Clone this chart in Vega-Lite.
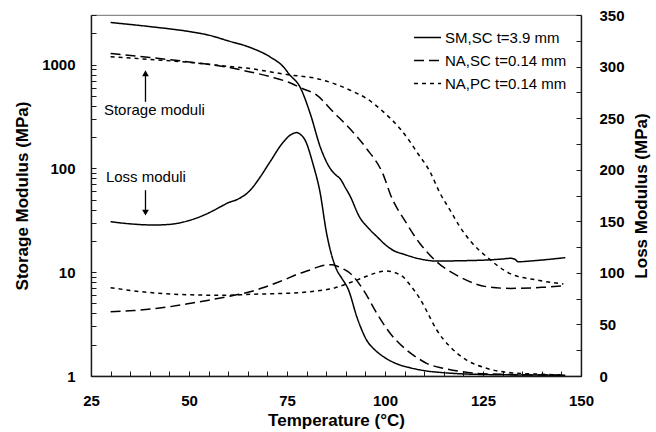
{
  "$schema": "https://vega.github.io/schema/vega-lite/v6.json",
  "width": 490,
  "height": 361,
  "autosize": {"type": "none"},
  "padding": {"left": 91, "top": 15, "right": 75, "bottom": 56},
  "background": "white",
  "datasets": {
    "curves": [
      {"series": "SM,SC t=3.9 mm", "modulus": "storage", "T": 30, "value": 2540},
      {"series": "SM,SC t=3.9 mm", "modulus": "storage", "T": 40, "value": 2320},
      {"series": "SM,SC t=3.9 mm", "modulus": "storage", "T": 50, "value": 2080},
      {"series": "SM,SC t=3.9 mm", "modulus": "storage", "T": 55, "value": 1920},
      {"series": "SM,SC t=3.9 mm", "modulus": "storage", "T": 60, "value": 1690},
      {"series": "SM,SC t=3.9 mm", "modulus": "storage", "T": 65.6, "value": 1460},
      {"series": "SM,SC t=3.9 mm", "modulus": "storage", "T": 70.7, "value": 1183},
      {"series": "SM,SC t=3.9 mm", "modulus": "storage", "T": 74.1, "value": 948},
      {"series": "SM,SC t=3.9 mm", "modulus": "storage", "T": 75.6, "value": 803},
      {"series": "SM,SC t=3.9 mm", "modulus": "storage", "T": 78.3, "value": 609},
      {"series": "SM,SC t=3.9 mm", "modulus": "storage", "T": 81, "value": 330},
      {"series": "SM,SC t=3.9 mm", "modulus": "storage", "T": 83.5, "value": 160},
      {"series": "SM,SC t=3.9 mm", "modulus": "storage", "T": 86, "value": 100},
      {"series": "SM,SC t=3.9 mm", "modulus": "storage", "T": 87.5, "value": 86},
      {"series": "SM,SC t=3.9 mm", "modulus": "storage", "T": 88.5, "value": 80},
      {"series": "SM,SC t=3.9 mm", "modulus": "storage", "T": 90, "value": 64},
      {"series": "SM,SC t=3.9 mm", "modulus": "storage", "T": 91, "value": 55},
      {"series": "SM,SC t=3.9 mm", "modulus": "storage", "T": 93.5, "value": 34},
      {"series": "SM,SC t=3.9 mm", "modulus": "storage", "T": 96, "value": 26},
      {"series": "SM,SC t=3.9 mm", "modulus": "storage", "T": 98, "value": 21.9},
      {"series": "SM,SC t=3.9 mm", "modulus": "storage", "T": 100, "value": 18.5},
      {"series": "SM,SC t=3.9 mm", "modulus": "storage", "T": 102, "value": 16.3},
      {"series": "SM,SC t=3.9 mm", "modulus": "storage", "T": 105, "value": 14.8},
      {"series": "SM,SC t=3.9 mm", "modulus": "storage", "T": 109, "value": 13.4},
      {"series": "SM,SC t=3.9 mm", "modulus": "storage", "T": 113, "value": 12.8},
      {"series": "SM,SC t=3.9 mm", "modulus": "storage", "T": 120, "value": 12.9},
      {"series": "SM,SC t=3.9 mm", "modulus": "storage", "T": 126, "value": 13.1},
      {"series": "SM,SC t=3.9 mm", "modulus": "storage", "T": 130, "value": 13.4},
      {"series": "SM,SC t=3.9 mm", "modulus": "storage", "T": 132, "value": 13.6},
      {"series": "SM,SC t=3.9 mm", "modulus": "storage", "T": 133, "value": 13.4},
      {"series": "SM,SC t=3.9 mm", "modulus": "storage", "T": 134, "value": 12.6},
      {"series": "SM,SC t=3.9 mm", "modulus": "storage", "T": 137, "value": 12.8},
      {"series": "SM,SC t=3.9 mm", "modulus": "storage", "T": 141, "value": 13.2},
      {"series": "SM,SC t=3.9 mm", "modulus": "storage", "T": 146, "value": 13.8},

      {"series": "NA,SC t=0.14 mm", "modulus": "storage", "T": 30, "value": 1280},
      {"series": "NA,SC t=0.14 mm", "modulus": "storage", "T": 40, "value": 1170},
      {"series": "NA,SC t=0.14 mm", "modulus": "storage", "T": 50, "value": 1060},
      {"series": "NA,SC t=0.14 mm", "modulus": "storage", "T": 60, "value": 940},
      {"series": "NA,SC t=0.14 mm", "modulus": "storage", "T": 65.6, "value": 849},
      {"series": "NA,SC t=0.14 mm", "modulus": "storage", "T": 71, "value": 760},
      {"series": "NA,SC t=0.14 mm", "modulus": "storage", "T": 76.2, "value": 656},
      {"series": "NA,SC t=0.14 mm", "modulus": "storage", "T": 78.3, "value": 600},
      {"series": "NA,SC t=0.14 mm", "modulus": "storage", "T": 82.6, "value": 507},
      {"series": "NA,SC t=0.14 mm", "modulus": "storage", "T": 86.8, "value": 350},
      {"series": "NA,SC t=0.14 mm", "modulus": "storage", "T": 91, "value": 242},
      {"series": "NA,SC t=0.14 mm", "modulus": "storage", "T": 95.3, "value": 155},
      {"series": "NA,SC t=0.14 mm", "modulus": "storage", "T": 99.6, "value": 86},
      {"series": "NA,SC t=0.14 mm", "modulus": "storage", "T": 101.3, "value": 57},
      {"series": "NA,SC t=0.14 mm", "modulus": "storage", "T": 105.5, "value": 29.5},
      {"series": "NA,SC t=0.14 mm", "modulus": "storage", "T": 108.9, "value": 18.9},
      {"series": "NA,SC t=0.14 mm", "modulus": "storage", "T": 113.2, "value": 12.6},
      {"series": "NA,SC t=0.14 mm", "modulus": "storage", "T": 119.1, "value": 9.0},
      {"series": "NA,SC t=0.14 mm", "modulus": "storage", "T": 126, "value": 7.24},
      {"series": "NA,SC t=0.14 mm", "modulus": "storage", "T": 132, "value": 6.98},
      {"series": "NA,SC t=0.14 mm", "modulus": "storage", "T": 140, "value": 7.14},
      {"series": "NA,SC t=0.14 mm", "modulus": "storage", "T": 146, "value": 7.4},

      {"series": "NA,PC t=0.14 mm", "modulus": "storage", "T": 30, "value": 1190},
      {"series": "NA,PC t=0.14 mm", "modulus": "storage", "T": 40, "value": 1120},
      {"series": "NA,PC t=0.14 mm", "modulus": "storage", "T": 50, "value": 1050},
      {"series": "NA,PC t=0.14 mm", "modulus": "storage", "T": 60, "value": 960},
      {"series": "NA,PC t=0.14 mm", "modulus": "storage", "T": 65.6, "value": 915},
      {"series": "NA,PC t=0.14 mm", "modulus": "storage", "T": 70, "value": 860},
      {"series": "NA,PC t=0.14 mm", "modulus": "storage", "T": 75, "value": 800},
      {"series": "NA,PC t=0.14 mm", "modulus": "storage", "T": 82.6, "value": 733},
      {"series": "NA,PC t=0.14 mm", "modulus": "storage", "T": 87, "value": 655},
      {"series": "NA,PC t=0.14 mm", "modulus": "storage", "T": 91.1, "value": 566},
      {"series": "NA,PC t=0.14 mm", "modulus": "storage", "T": 95.3, "value": 471},
      {"series": "NA,PC t=0.14 mm", "modulus": "storage", "T": 99.6, "value": 350},
      {"series": "NA,PC t=0.14 mm", "modulus": "storage", "T": 103.8, "value": 242},
      {"series": "NA,PC t=0.14 mm", "modulus": "storage", "T": 106.4, "value": 180},
      {"series": "NA,PC t=0.14 mm", "modulus": "storage", "T": 108.1, "value": 144},
      {"series": "NA,PC t=0.14 mm", "modulus": "storage", "T": 111.5, "value": 92.5},
      {"series": "NA,PC t=0.14 mm", "modulus": "storage", "T": 114, "value": 58},
      {"series": "NA,PC t=0.14 mm", "modulus": "storage", "T": 116.6, "value": 39.6},
      {"series": "NA,PC t=0.14 mm", "modulus": "storage", "T": 119.1, "value": 27.4},
      {"series": "NA,PC t=0.14 mm", "modulus": "storage", "T": 122, "value": 19.5},
      {"series": "NA,PC t=0.14 mm", "modulus": "storage", "T": 125.9, "value": 14.1},
      {"series": "NA,PC t=0.14 mm", "modulus": "storage", "T": 131.9, "value": 9.7},
      {"series": "NA,PC t=0.14 mm", "modulus": "storage", "T": 138.7, "value": 8.4},
      {"series": "NA,PC t=0.14 mm", "modulus": "storage", "T": 145.5, "value": 7.7},

      {"series": "SM,SC t=3.9 mm", "modulus": "loss", "T": 30, "value": 149.6},
      {"series": "SM,SC t=3.9 mm", "modulus": "loss", "T": 35, "value": 147.5},
      {"series": "SM,SC t=3.9 mm", "modulus": "loss", "T": 41, "value": 146.4},
      {"series": "SM,SC t=3.9 mm", "modulus": "loss", "T": 45, "value": 147},
      {"series": "SM,SC t=3.9 mm", "modulus": "loss", "T": 50.5, "value": 151.3},
      {"series": "SM,SC t=3.9 mm", "modulus": "loss", "T": 54.8, "value": 157.7},
      {"series": "SM,SC t=3.9 mm", "modulus": "loss", "T": 58, "value": 164},
      {"series": "SM,SC t=3.9 mm", "modulus": "loss", "T": 60, "value": 168},
      {"series": "SM,SC t=3.9 mm", "modulus": "loss", "T": 62.4, "value": 171.3},
      {"series": "SM,SC t=3.9 mm", "modulus": "loss", "T": 65.6, "value": 180},
      {"series": "SM,SC t=3.9 mm", "modulus": "loss", "T": 68, "value": 192},
      {"series": "SM,SC t=3.9 mm", "modulus": "loss", "T": 70.7, "value": 207.8},
      {"series": "SM,SC t=3.9 mm", "modulus": "loss", "T": 74.1, "value": 227},
      {"series": "SM,SC t=3.9 mm", "modulus": "loss", "T": 76, "value": 234},
      {"series": "SM,SC t=3.9 mm", "modulus": "loss", "T": 77.5, "value": 236},
      {"series": "SM,SC t=3.9 mm", "modulus": "loss", "T": 78.5, "value": 234},
      {"series": "SM,SC t=3.9 mm", "modulus": "loss", "T": 79.6, "value": 228.8},
      {"series": "SM,SC t=3.9 mm", "modulus": "loss", "T": 81.7, "value": 204.6},
      {"series": "SM,SC t=3.9 mm", "modulus": "loss", "T": 83.4, "value": 178.7},
      {"series": "SM,SC t=3.9 mm", "modulus": "loss", "T": 85.1, "value": 138.4},
      {"series": "SM,SC t=3.9 mm", "modulus": "loss", "T": 87.7, "value": 102.8},
      {"series": "SM,SC t=3.9 mm", "modulus": "loss", "T": 89, "value": 94.7},
      {"series": "SM,SC t=3.9 mm", "modulus": "loss", "T": 90.7, "value": 83.4},
      {"series": "SM,SC t=3.9 mm", "modulus": "loss", "T": 92.8, "value": 57.5},
      {"series": "SM,SC t=3.9 mm", "modulus": "loss", "T": 95.3, "value": 34.9},
      {"series": "SM,SC t=3.9 mm", "modulus": "loss", "T": 97.5, "value": 25},
      {"series": "SM,SC t=3.9 mm", "modulus": "loss", "T": 99.6, "value": 18.7},
      {"series": "SM,SC t=3.9 mm", "modulus": "loss", "T": 103.8, "value": 10.7},
      {"series": "SM,SC t=3.9 mm", "modulus": "loss", "T": 106.4, "value": 8},
      {"series": "SM,SC t=3.9 mm", "modulus": "loss", "T": 110, "value": 5.2},
      {"series": "SM,SC t=3.9 mm", "modulus": "loss", "T": 114.9, "value": 3.2},
      {"series": "SM,SC t=3.9 mm", "modulus": "loss", "T": 123.4, "value": 1.6},
      {"series": "SM,SC t=3.9 mm", "modulus": "loss", "T": 135, "value": 1.0},
      {"series": "SM,SC t=3.9 mm", "modulus": "loss", "T": 146, "value": 0.8},

      {"series": "NA,SC t=0.14 mm", "modulus": "loss", "T": 30, "value": 62.3},
      {"series": "NA,SC t=0.14 mm", "modulus": "loss", "T": 36, "value": 63.5},
      {"series": "NA,SC t=0.14 mm", "modulus": "loss", "T": 42, "value": 65.6},
      {"series": "NA,SC t=0.14 mm", "modulus": "loss", "T": 50.5, "value": 70.5},
      {"series": "NA,SC t=0.14 mm", "modulus": "loss", "T": 55, "value": 73.5},
      {"series": "NA,SC t=0.14 mm", "modulus": "loss", "T": 60.7, "value": 77.6},
      {"series": "NA,SC t=0.14 mm", "modulus": "loss", "T": 65.6, "value": 81.7},
      {"series": "NA,SC t=0.14 mm", "modulus": "loss", "T": 68.4, "value": 85},
      {"series": "NA,SC t=0.14 mm", "modulus": "loss", "T": 74.1, "value": 93},
      {"series": "NA,SC t=0.14 mm", "modulus": "loss", "T": 77.5, "value": 98.5},
      {"series": "NA,SC t=0.14 mm", "modulus": "loss", "T": 80.9, "value": 102.8},
      {"series": "NA,SC t=0.14 mm", "modulus": "loss", "T": 83, "value": 105.8},
      {"series": "NA,SC t=0.14 mm", "modulus": "loss", "T": 85.1, "value": 107.6},
      {"series": "NA,SC t=0.14 mm", "modulus": "loss", "T": 86.5, "value": 107.8},
      {"series": "NA,SC t=0.14 mm", "modulus": "loss", "T": 87.7, "value": 106.6},
      {"series": "NA,SC t=0.14 mm", "modulus": "loss", "T": 89.5, "value": 103.5},
      {"series": "NA,SC t=0.14 mm", "modulus": "loss", "T": 91.1, "value": 99.6},
      {"series": "NA,SC t=0.14 mm", "modulus": "loss", "T": 94.5, "value": 83.4},
      {"series": "NA,SC t=0.14 mm", "modulus": "loss", "T": 97.9, "value": 60.8},
      {"series": "NA,SC t=0.14 mm", "modulus": "loss", "T": 101.3, "value": 41.4},
      {"series": "NA,SC t=0.14 mm", "modulus": "loss", "T": 105.5, "value": 25.2},
      {"series": "NA,SC t=0.14 mm", "modulus": "loss", "T": 108.9, "value": 16},
      {"series": "NA,SC t=0.14 mm", "modulus": "loss", "T": 110.6, "value": 12.3},
      {"series": "NA,SC t=0.14 mm", "modulus": "loss", "T": 114.9, "value": 7.5},
      {"series": "NA,SC t=0.14 mm", "modulus": "loss", "T": 119, "value": 4.5},
      {"series": "NA,SC t=0.14 mm", "modulus": "loss", "T": 123.4, "value": 2.6},
      {"series": "NA,SC t=0.14 mm", "modulus": "loss", "T": 131.9, "value": 1.5},
      {"series": "NA,SC t=0.14 mm", "modulus": "loss", "T": 146, "value": 0.8},

      {"series": "NA,PC t=0.14 mm", "modulus": "loss", "T": 30, "value": 85.6},
      {"series": "NA,PC t=0.14 mm", "modulus": "loss", "T": 34, "value": 83.5},
      {"series": "NA,PC t=0.14 mm", "modulus": "loss", "T": 37.8, "value": 81.7},
      {"series": "NA,PC t=0.14 mm", "modulus": "loss", "T": 42, "value": 80.3},
      {"series": "NA,PC t=0.14 mm", "modulus": "loss", "T": 46.3, "value": 79.2},
      {"series": "NA,PC t=0.14 mm", "modulus": "loss", "T": 52, "value": 78.6},
      {"series": "NA,PC t=0.14 mm", "modulus": "loss", "T": 59, "value": 78.2},
      {"series": "NA,PC t=0.14 mm", "modulus": "loss", "T": 65.6, "value": 79.2},
      {"series": "NA,PC t=0.14 mm", "modulus": "loss", "T": 72, "value": 79.8},
      {"series": "NA,PC t=0.14 mm", "modulus": "loss", "T": 78.3, "value": 80.8},
      {"series": "NA,PC t=0.14 mm", "modulus": "loss", "T": 82.5, "value": 82.5},
      {"series": "NA,PC t=0.14 mm", "modulus": "loss", "T": 86.8, "value": 85},
      {"series": "NA,PC t=0.14 mm", "modulus": "loss", "T": 90, "value": 89},
      {"series": "NA,PC t=0.14 mm", "modulus": "loss", "T": 92.8, "value": 93},
      {"series": "NA,PC t=0.14 mm", "modulus": "loss", "T": 95.5, "value": 97},
      {"series": "NA,PC t=0.14 mm", "modulus": "loss", "T": 97.9, "value": 100.2},
      {"series": "NA,PC t=0.14 mm", "modulus": "loss", "T": 100.4, "value": 101.8},
      {"series": "NA,PC t=0.14 mm", "modulus": "loss", "T": 103, "value": 99.6},
      {"series": "NA,PC t=0.14 mm", "modulus": "loss", "T": 104.8, "value": 95.5},
      {"series": "NA,PC t=0.14 mm", "modulus": "loss", "T": 106.4, "value": 88.2},
      {"series": "NA,PC t=0.14 mm", "modulus": "loss", "T": 108.9, "value": 75},
      {"series": "NA,PC t=0.14 mm", "modulus": "loss", "T": 110.5, "value": 64},
      {"series": "NA,PC t=0.14 mm", "modulus": "loss", "T": 113.2, "value": 44.6},
      {"series": "NA,PC t=0.14 mm", "modulus": "loss", "T": 116.6, "value": 28.4},
      {"series": "NA,PC t=0.14 mm", "modulus": "loss", "T": 120.8, "value": 15.5},
      {"series": "NA,PC t=0.14 mm", "modulus": "loss", "T": 125.9, "value": 7.5},
      {"series": "NA,PC t=0.14 mm", "modulus": "loss", "T": 131.9, "value": 3.2},
      {"series": "NA,PC t=0.14 mm", "modulus": "loss", "T": 140.4, "value": 1.6},
      {"series": "NA,PC t=0.14 mm", "modulus": "loss", "T": 145.5, "value": 1.0}
    ],
    "notes": [
      {"label": "Storage moduli", "T": 28.3, "value": 363, "arrowFrom": 437, "arrowTo": 789, "head": 824, "shape": "triangle-up"},
      {"label": "Loss moduli", "T": 28.8, "value": 82.8, "arrowFrom": 61.7, "arrowTo": 37.9, "head": 37.5, "shape": "triangle-down"}
    ]
  },
  "layer": [
    {
      "layer": [
        {
          "data": {"name": "curves"},
          "transform": [{"filter": "datum.modulus === 'storage'"}],
          "mark": {"type": "line", "interpolate": "monotone", "color": "black", "strokeWidth": 1.5},
          "encoding": {
            "x": {
              "field": "T", "type": "quantitative",
              "scale": {"domain": [25, 150], "nice": false, "zero": false},
              "axis": {
                "title": "Temperature (°C)",
                "orient": "bottom",
                "values": [25, 50, 75, 100, 125, 150],
                "tickSize": -5,
                "labelPadding": 22,
                "titlePadding": 4
              }
            },
            "y": {
              "field": "value", "type": "quantitative",
              "scale": {"type": "log", "domain": [1, 3000], "nice": false},
              "axis": {
                "title": "Storage Modulus (MPa)",
                "orient": "left",
                "values": [1, 2, 3, 4, 5, 6, 7, 8, 9, 10, 20, 30, 40, 50, 60, 70, 80, 90, 100, 200, 300, 400, 500, 600, 700, 800, 900, 1000, 2000, 3000],
                "format": "d",
                "labelExpr": "indexof([1, 10, 100, 1000], datum.value) >= 0 ? datum.label : ''",
                "labelOverlap": false,
                "tickSize": -5,
                "labelPadding": 21,
                "titlePadding": 10
              }
            },
            "strokeDash": {
              "field": "series", "type": "nominal",
              "scale": {
                "domain": ["SM,SC t=3.9 mm", "NA,SC t=0.14 mm", "NA,PC t=0.14 mm"],
                "range": [[1, 0], [10, 5], [4, 4]]
              },
              "legend": {
                "title": null,
                "orient": "none",
                "legendX": 322,
                "legendY": 8,
                "symbolType": "stroke",
                "symbolSize": 729,
                "symbolStrokeWidth": 1.5,
                "symbolStrokeColor": "black",
                "labelFontSize": 15,
                "labelOffset": 3,
                "rowPadding": -6,
                "padding": 0
              }
            }
          }
        },
        {
          "data": {"name": "notes"},
          "mark": {"type": "text", "align": "left", "baseline": "middle", "fontSize": 15, "color": "black"},
          "encoding": {
            "x": {"field": "T", "type": "quantitative"},
            "y": {"field": "value", "type": "quantitative"},
            "text": {"field": "label"}
          }
        },
        {
          "data": {"name": "notes"},
          "mark": {"type": "rule", "color": "black", "strokeWidth": 1.3},
          "encoding": {
            "x": {"datum": 38.9, "type": "quantitative"},
            "y": {"field": "arrowFrom", "type": "quantitative"},
            "y2": {"field": "arrowTo"}
          }
        },
        {
          "data": {"name": "notes"},
          "mark": {"type": "point", "filled": true, "color": "black", "size": 45, "opacity": 1},
          "encoding": {
            "x": {"datum": 38.9, "type": "quantitative"},
            "y": {"field": "head", "type": "quantitative"},
            "shape": {"field": "shape", "type": "nominal", "scale": null, "legend": null}
          }
        }
      ]
    },
    {
      "data": {"name": "curves"},
      "transform": [{"filter": "datum.modulus === 'loss'"}],
      "mark": {"type": "line", "interpolate": "monotone", "color": "black", "strokeWidth": 1.5},
      "encoding": {
        "x": {
          "field": "T", "type": "quantitative",
          "axis": {
            "title": null,
            "orient": "bottom",
            "values": [30, 35, 40, 45, 55, 60, 65, 70, 80, 85, 90, 95, 105, 110, 115, 120, 130, 135, 140, 145],
            "labels": false,
            "domain": false,
            "tickSize": -5
          }
        },
        "y": {
          "field": "value", "type": "quantitative",
          "scale": {"domain": [0, 350], "nice": false},
          "axis": {
            "title": "Loss Modulus (MPa)",
            "orient": "right",
            "values": [0, 25, 50, 75, 100, 125, 150, 175, 200, 225, 250, 275, 300, 325, 350],
            "labelExpr": "datum.value % 50 === 0 ? datum.label : ''",
            "labelOverlap": false,
            "tickSize": -5,
            "labelPadding": 23,
            "titleAngle": 270,
            "titlePadding": 26
          }
        },
        "strokeDash": {"field": "series", "type": "nominal"}
      }
    }
  ],
  "resolve": {"scale": {"y": "independent"}, "axis": {"x": "independent"}},
  "config": {
    "font": "Liberation Sans",
    "view": {"stroke": "#8a8a8a", "strokeWidth": 1.2},
    "axis": {
      "grid": false,
      "domainColor": "#1a1a1a",
      "domainWidth": 1.4,
      "tickColor": "#1a1a1a",
      "tickWidth": 1,
      "labelFont": "Liberation Sans",
      "labelFontSize": 15,
      "labelFontWeight": "bold",
      "labelColor": "black",
      "labelFlush": false,
      "titleFont": "Liberation Sans",
      "titleFontSize": 17,
      "titleFontWeight": "bold",
      "titleColor": "black"
    },
    "legend": {"labelFont": "Liberation Sans", "labelColor": "black"}
  }
}
